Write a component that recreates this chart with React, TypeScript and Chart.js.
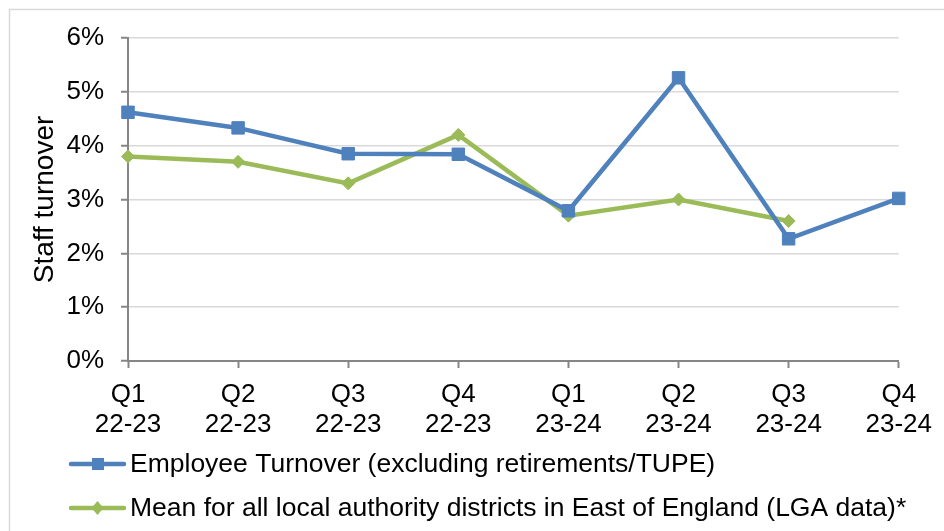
import React, { useEffect, useRef } from "react";
import { Chart, registerables } from "chart.js";

Chart.register(...registerables);

const categories: string[][] = [
  ["Q1", "22-23"], ["Q2", "22-23"], ["Q3", "22-23"], ["Q4", "22-23"],
  ["Q1", "23-24"], ["Q2", "23-24"], ["Q3", "23-24"], ["Q4", "23-24"],
];
const employeeTurnover: (number | null)[] = [4.62, 4.33, 3.85, 3.84, 2.79, 5.26, 2.27, 3.02];
const laMean: (number | null)[] = [3.8, 3.7, 3.3, 4.2, 2.7, 3.0, 2.6, null];
const seriesLabels = [
  "Employee Turnover (excluding retirements/TUPE)",
  "Mean for all local authority districts in East of England (LGA data)*",
];
const seriesColors = ["#4f81bd", "#9bbb59"];
const seriesMarkers = ["rect", "rectRot"];
const yMin = 0;
const yMax = 6;
const yStep = 1;
const yTitle = "Staff turnover";

const FONT = "'Liberation Sans', Arial, sans-serif";

const framePlugin = {
  id: "frame",
  beforeDraw(chart: any) {
    const ctx = chart.ctx;
    ctx.save();
    ctx.fillStyle = "#ffffff";
    ctx.fillRect(0, 0, chart.width, chart.height);
    ctx.strokeStyle = "#d9d9d9";
    ctx.lineWidth = 1.5;
    ctx.strokeRect(9.5, 9.5, chart.width + 50, chart.height + 50);
    ctx.restore();
  },
};

const legendPlugin = {
  id: "customLegend",
  afterDraw(chart: any) {
    const ctx = chart.ctx;
    const rows = [464, 508];
    ctx.save();
    chart.data.datasets.forEach((ds: any, i: number) => {
      const y = rows[i];
      ctx.strokeStyle = ds.borderColor;
      ctx.lineWidth = 4.5;
      ctx.lineCap = "round";
      ctx.beginPath();
      ctx.moveTo(71, y);
      ctx.lineTo(124, y);
      ctx.stroke();
      ctx.fillStyle = ds.borderColor;
      ctx.beginPath();
      if (ds.pointStyle === "rect") {
        ctx.rect(92, y - 6, 12, 12);
      } else {
        ctx.moveTo(97.5, y - 7);
        ctx.lineTo(103.5, y);
        ctx.lineTo(97.5, y + 7);
        ctx.lineTo(91.5, y);
        ctx.closePath();
      }
      ctx.fill();
      ctx.fillStyle = "#000000";
      ctx.font = `26.5px ${FONT}`;
      ctx.textAlign = "left";
      ctx.textBaseline = "middle";
      ctx.fillText(ds.label, 130, y + 1);
    });
    ctx.restore();
  },
};

export default function App() {
  const ref = useRef<HTMLCanvasElement | null>(null);
  useEffect(() => {
    document.body.style.margin = "0";
    Chart.defaults.font.family = FONT;
    const chart = new Chart(ref.current as HTMLCanvasElement, {
      type: "line",
      data: {
        labels: categories,
        datasets: [employeeTurnover, laMean].map((d, i) => ({
          label: seriesLabels[i],
          data: d,
          borderColor: seriesColors[i],
          backgroundColor: seriesColors[i],
          pointBackgroundColor: seriesColors[i],
          pointBorderColor: seriesColors[i],
          pointStyle: seriesMarkers[i],
          pointRadius: i === 0 ? 8.8 : 6.5,
          pointBorderWidth: 1,
          borderWidth: 4.5,
          tension: 0,
          fill: false,
        })),
      },
      options: {
        animation: false,
        responsive: false,
        devicePixelRatio: 1,
        layout: { padding: { left: 0, right: 45, top: 38, bottom: 90 } },
        plugins: {
          legend: { display: false },
          tooltip: { enabled: false },
        },
        scales: {
          x: {
            offset: false,
            afterFit: (s: any) => { s.height = 80; },
            grid: {
              drawOnChartArea: false,
              drawTicks: true,
              tickLength: 7,
              tickColor: "#868686",
              tickWidth: 2,
            },
            border: { color: "#868686", width: 2 },
            ticks: {
              color: "#000000",
              font: { size: 26, lineHeight: 1.15 },
              padding: 12,
              maxRotation: 0,
              autoSkip: false,
            },
          },
          y: {
            min: yMin,
            max: yMax,
            afterFit: (s: any) => { s.width = 128; },
            grid: {
              color: "#d9d9d9",
              lineWidth: 1.5,
              tickColor: "#868686",
              tickLength: 7,
              tickWidth: 2,
            },
            border: { color: "#868686", width: 2 },
            ticks: {
              stepSize: yStep,
              color: "#000000",
              font: { size: 26 },
              padding: 17,
              callback: (v: any) => `${v}%`,
            },
            title: {
              display: true,
              text: yTitle,
              color: "#000000",
              font: { size: 28, lineHeight: 1.2 },
              padding: { top: 28, bottom: 0 },
            },
          },
        },
      },
      plugins: [framePlugin, legendPlugin],
    });
    return () => chart.destroy();
  }, []);
  return (
    <div style={{ width: 944, height: 531 }}>
      <canvas ref={ref} width={944} height={531} style={{ display: "block" }} />
    </div>
  );
}
